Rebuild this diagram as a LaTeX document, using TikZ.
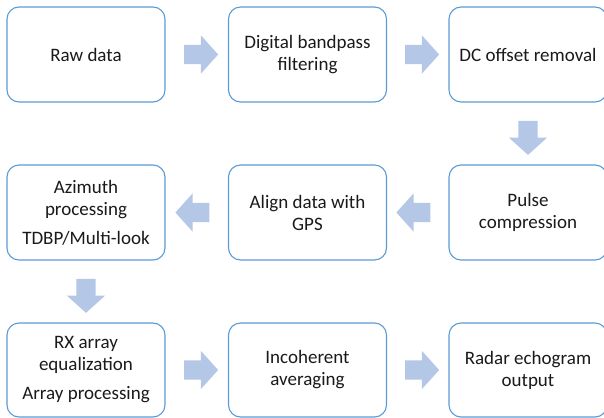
\documentclass[tikz,border=0pt]{standalone}
\usepackage{fontspec}
\setmainfont{Carlito}
\usetikzlibrary{shapes.arrows,calc}
\definecolor{boxline}{HTML}{5B9BD5}
\definecolor{arrowfill}{HTML}{B4C7E7}
\definecolor{textcol}{HTML}{1A1A1A}
\tikzset{
  stagebox/.style={draw=boxline, line width=1.1pt, rounded corners=12pt,
    minimum width=158pt, minimum height=95pt, align=center,
    font=\fontsize{19}{22}\selectfont, text=textcol, fill=white},
  flowarrow/.style={single arrow, fill=arrowfill, draw=none,
    inner xsep=0pt, inner ysep=9.5pt,
    minimum height=34pt, single arrow head extend=9.5pt,
    single arrow tip angle=96, anchor=center},
  downarrow/.style={flowarrow, inner xsep=9.5pt, inner ysep=0pt,
    shape border rotate=270},
  leftarrow/.style={flowarrow, shape border rotate=180},
}
\begin{document}
\begin{tikzpicture}[x=1pt, y=-1pt]
  \useasboundingbox (0,0) rectangle (604,417);

  % first row, left to right
  \node[stagebox] (raw) at (86,54.5) {Raw data};
  \node[stagebox] (bpf) at (307.5,54.5) {Digital bandpass\\filtering};
  \node[stagebox] (dco) at (528,54.5) {DC offset removal};

  % second row, right to left
  \node[stagebox] (pc)  at (528,212.5) {Pulse\\compression};
  \node[stagebox] (gps) at (307.5,212.5) {Align data with\\GPS};
  \node[stagebox] (azi) at (86,212.5) {Azimuth\\processing\\[7pt]TDBP/Multi-look};

  % third row, left to right
  \node[stagebox, minimum height=94pt] (rx)  at (86,370) {RX array\\equalization\\[7pt]Array processing};
  \node[stagebox, minimum height=94pt] (inc) at (307.5,370) {Incoherent\\averaging};
  \node[stagebox, minimum height=94pt] (out) at (528,370) {Radar echogram\\output};

  % block arrows between the stages
  \node[flowarrow] (a1) at ($(raw.east)!0.5!(bpf.west)$) {};
  \node[flowarrow] (a2) at ($(bpf.east)!0.5!(dco.west)$) {};
  \node[downarrow] (a3) at ($(dco.south)!0.5!(pc.north)$) {};
  \node[leftarrow] (a4) at ($(pc.west)!0.5!(gps.east)$) {};
  \node[leftarrow] (a5) at ($(gps.west)!0.5!(azi.east)$) {};
  \node[downarrow] (a6) at ($(azi.south)!0.5!(rx.north)$) {};
  \node[flowarrow] (a7) at ($(rx.east)!0.5!(inc.west)$) {};
  \node[flowarrow] (a8) at ($(inc.east)!0.5!(out.west)$) {};
\end{tikzpicture}
\end{document}
